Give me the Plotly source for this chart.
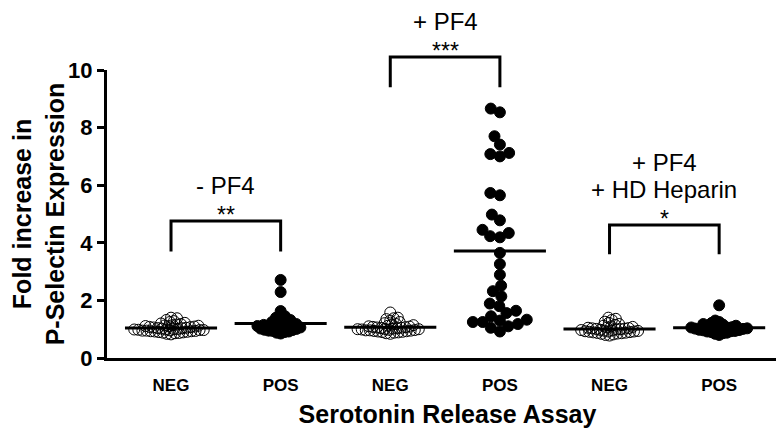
import numpy as np
import plotly.graph_objects as go

# Serotonin release assay groups, fold increase in P-selectin expression
categories = ["NEG", "POS", "NEG", "POS", "NEG", "POS"]

neg_no_pf4 = [0.82, 0.84, 0.86, 0.87, 0.88, 0.89, 0.90, 0.91, 0.92, 0.93, 0.93, 0.94,
              0.95, 0.95, 0.96, 0.97, 0.97, 0.98, 0.99, 0.99, 1.00, 1.01, 1.02, 1.03,
              1.04, 1.05, 1.06, 1.07, 1.08, 1.09, 1.10, 1.11, 1.12, 1.13, 1.14, 1.16,
              1.18, 1.20, 1.22, 1.25, 1.28, 1.32, 1.38, 1.40]
pos_no_pf4 = [0.85, 0.88, 0.90, 0.92, 0.94, 0.95, 0.97, 0.98, 1.00, 1.01, 1.02, 1.03,
              1.05, 1.06, 1.07, 1.08, 1.10, 1.11, 1.12, 1.14, 1.15, 1.17, 1.18, 1.20,
              1.22, 1.25, 1.28, 1.32, 1.38, 1.40, 1.45, 1.63, 2.29, 2.71]
neg_pf4 = [0.84, 0.86, 0.88, 0.89, 0.90, 0.91, 0.92, 0.93, 0.94, 0.95, 0.96, 0.96,
           0.97, 0.98, 0.99, 1.00, 1.00, 1.01, 1.02, 1.03, 1.04, 1.05, 1.06, 1.07,
           1.08, 1.09, 1.10, 1.12, 1.14, 1.16, 1.18, 1.21, 1.25, 1.30, 1.35, 1.38,
           1.40, 1.58]
pos_pf4 = [8.66, 8.53, 7.70, 7.41, 7.12, 7.08, 7.00, 5.73, 5.65, 4.98, 4.78, 4.45,
           4.34, 4.23, 4.19, 3.65, 3.26, 2.89, 2.51, 2.32, 2.14, 1.89, 1.80, 1.64,
           1.56, 1.45, 1.33, 1.30, 1.25, 1.25, 1.18, 1.10, 1.05, 0.92]
neg_pf4_hep = [0.78, 0.80, 0.82, 0.84, 0.85, 0.86, 0.87, 0.88, 0.89, 0.90, 0.91, 0.92,
               0.92, 0.93, 0.94, 0.95, 0.96, 0.97, 0.98, 0.99, 1.00, 1.01, 1.02, 1.03,
               1.04, 1.05, 1.06, 1.08, 1.10, 1.12, 1.15, 1.18, 1.22, 1.26, 1.32, 1.36,
               1.40]
pos_pf4_hep = [0.80, 0.84, 0.86, 0.88, 0.90, 0.92, 0.93, 0.94, 0.95, 0.96, 0.97, 0.98,
               0.99, 1.00, 1.01, 1.02, 1.03, 1.04, 1.05, 1.06, 1.07, 1.08, 1.10, 1.12,
               1.14, 1.16, 1.18, 1.22, 1.25, 1.30, 1.83]

groups = [neg_no_pf4, pos_no_pf4, neg_pf4, pos_pf4, neg_pf4_hep, pos_pf4_hep]
filled = [False, True, False, True, False, True]
swarm_gap = [4.2, 4.2, 4.2, 10, 4.2, 4.2]

# condition labels (one entry per text line), significance and brackets
condition_lines = [["- PF4"], ["+ PF4"], ["+ PF4", "+ HD Heparin"]]
stars = ["**", "***", "*"]
bracket_top = [4.76, 10.45, 4.62]
bracket_foot = [3.7, 9.4, 3.6]

W, H = 784, 434
margin = dict(l=88, r=4, t=62, b=84)
x_range = [0.416, 6.628]
y_range = [0, 10]
px_x = (W - margin["l"] - margin["r"]) / (x_range[1] - x_range[0])
px_y = (H - margin["t"] - margin["b"]) / (y_range[1] - y_range[0])


def swarm(values, gap):
    # simple beeswarm in pixel space, lowest values placed first at the centre
    ys = np.asarray(values, dtype=float) * px_y
    xs = np.zeros(len(ys))
    placed = []
    for i in np.argsort(ys, kind="stable"):
        cands = [0.0]
        for j in placed:
            dy = ys[i] - ys[j]
            if abs(dy) < gap:
                dx = np.sqrt(gap ** 2 - dy ** 2)
                cands += [xs[j] - dx, xs[j] + dx]
        cands.sort(key=abs)
        for c in cands:
            if all((c - xs[j]) ** 2 + (ys[i] - ys[j]) ** 2 >= gap ** 2 - 1e-6 for j in placed):
                xs[i] = c
                break
        placed.append(i)
    return xs / px_x


def to_paper(v):
    return (v - y_range[0]) / (y_range[1] - y_range[0])


fig = go.Figure()
for k, vals in enumerate(groups):
    pos = k + 1
    fig.add_trace(go.Scatter(
        x=pos + swarm(vals, swarm_gap[k]), y=vals, mode="markers",
        marker=dict(symbol="circle" if filled[k] else "circle-open", size=11,
                    color="black", line=dict(width=1, color="black")),
        showlegend=False, cliponaxis=False))
    m = float(np.mean(vals))
    fig.add_trace(go.Scatter(x=[pos - 0.42, pos + 0.42], y=[m, m], mode="lines",
                             line=dict(color="black", width=3), showlegend=False))

line_gap = 0.95  # data units between stacked condition lines
for k in range(3):
    a, b = 2 * k + 1, 2 * k + 2
    top, foot = to_paper(bracket_top[k]), to_paper(bracket_foot[k])
    fig.add_shape(type="path", xref="x", yref="paper",
                  path=f"M {a} {foot} L {a} {top} L {b} {top} L {b} {foot}",
                  line=dict(color="black", width=3))
    fig.add_annotation(x=(a + b) / 2, y=to_paper(bracket_top[k] + 0.22), yref="paper",
                       text=stars[k], showarrow=False, yanchor="middle",
                       font=dict(size=23, color="black"))
    lines = condition_lines[k]
    for n, txt in enumerate(lines):
        level = bracket_top[k] + 1.22 + (len(lines) - 1 - n) * line_gap
        fig.add_annotation(x=(a + b) / 2, y=to_paper(level), yref="paper",
                           text=txt, showarrow=False, yanchor="middle",
                           font=dict(size=24, color="black"))

fig.update_layout(
    width=W, height=H, margin=margin,
    plot_bgcolor="white", paper_bgcolor="white",
    font=dict(family="Liberation Sans, Arial, sans-serif", color="black"),
)
fig.update_xaxes(range=x_range, tickvals=list(range(1, 7)), ticktext=categories,
                 showline=True, linecolor="black", linewidth=3,
                 ticks="outside", ticklen=10, tickcolor="rgba(0,0,0,0)",
                 showgrid=False, zeroline=False,
                 tickfont=dict(size=17, color="black", weight="bold"),
                 title=dict(text="<b>Serotonin Release Assay</b>", font=dict(size=25),
                            standoff=12))
fig.update_yaxes(range=y_range, tickvals=[0, 2, 4, 6, 8, 10],
                 showline=True, linecolor="black", linewidth=3,
                 ticks="outside", ticklen=7, tickwidth=3, tickcolor="black",
                 showgrid=False, zeroline=False,
                 tickfont=dict(size=22, color="black", weight="bold"),
                 title=dict(text="<b>Fold increase in<br>P-Selectin Expression</b>",
                            font=dict(size=25), standoff=6))

fig.write_html("out.html")
